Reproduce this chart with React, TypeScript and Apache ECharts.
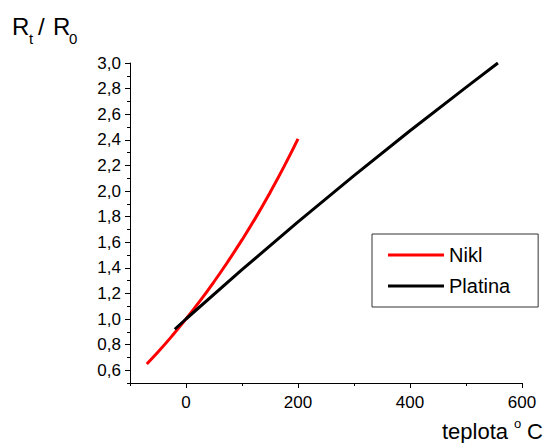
import React, { useEffect, useRef } from "react";
import * as echarts from "echarts";

const nickelT = [-70, -50, -25, 0, 25, 50, 75, 100, 125, 150, 175, 200];
const nickelR = [0.649, 0.742, 0.867, 1.0, 1.141, 1.291, 1.45, 1.618, 1.796, 1.987, 2.19, 2.407];
const platinaT = [-20, 0, 100, 200, 300, 400, 500, 557];
const platinaR = [0.92, 1.0, 1.385, 1.759, 2.12, 2.471, 2.81, 3.0];
const yTicks = [0.6, 0.8, 1.0, 1.2, 1.4, 1.6, 1.8, 2.0, 2.2, 2.4, 2.6, 2.8, 3.0];
const xTicks = [0, 200, 400, 600];
const seriesNames = ["Nikl", "Platina"];
const X_MIN = -100;
const X_MAX = 600;
const Y_MIN = 0.5;
const Y_MAX = 3.0;

const FONT = "'Liberation Sans', Arial, sans-serif";

export default function App() {
  const ref = useRef<HTMLDivElement>(null);
  useEffect(() => {
    if (!ref.current) return;
    const chart = echarts.init(ref.current, undefined, { renderer: "svg" });
    const texts = [
      { type: "text", left: 12, top: 14, style: { text: "R", font: `24px ${FONT}`, fill: "#000" } },
      { type: "text", left: 29, top: 31, style: { text: "t", font: `15px ${FONT}`, fill: "#000" } },
      { type: "text", left: 38, top: 14, style: { text: "/", font: `24px ${FONT}`, fill: "#000" } },
      { type: "text", left: 53, top: 14, style: { text: "R", font: `24px ${FONT}`, fill: "#000" } },
      { type: "text", left: 69, top: 31, style: { text: "0", font: `15px ${FONT}`, fill: "#000" } },
      { type: "text", right: 38, top: 420, style: { text: "teplota", font: `22px ${FONT}`, fill: "#000" } },
      { type: "text", left: 514, top: 417, style: { text: "o", font: `13px ${FONT}`, fill: "#000" } },
      { type: "text", right: 3, top: 420, style: { text: "C", font: `22px ${FONT}`, fill: "#000" } },
    ];
    chart.setOption({
      animation: false,
      backgroundColor: "#fff",
      textStyle: { fontFamily: FONT },
      grid: { left: 130, right: 24, top: 63, bottom: 60, containLabel: false, outerBoundsMode: "none" },
      xAxis: [
        {
          type: "value",
          min: X_MIN,
          max: X_MAX,
          interval: 100,
          position: "bottom",
          axisLine: { show: true, onZero: false, lineStyle: { color: "#000", width: 1 } },
          splitLine: { show: false },
          axisTick: { show: true, inside: false, length: 3, lineStyle: { color: "#000" } },
          axisLabel: { show: false },
        },
        {
          type: "value",
          min: X_MIN,
          max: X_MAX,
          position: "bottom",
          axisLine: { show: false, onZero: false },
          splitLine: { show: false },
          axisTick: { show: true, inside: false, length: 5, customValues: xTicks, lineStyle: { color: "#000" } },
          axisLabel: { customValues: xTicks, margin: 11, color: "#000", fontSize: 17, fontFamily: FONT },
        },
      ],
      yAxis: [
        {
          type: "value",
          min: Y_MIN,
          max: Y_MAX,
          interval: 0.1,
          position: "left",
          axisLine: { show: true, onZero: false, lineStyle: { color: "#000", width: 1 } },
          splitLine: { show: false },
          axisTick: { show: true, inside: false, length: 3, lineStyle: { color: "#000" } },
          axisLabel: { show: false },
        },
        {
          type: "value",
          min: Y_MIN,
          max: Y_MAX,
          position: "left",
          axisLine: { show: false, onZero: false },
          splitLine: { show: false },
          axisTick: { show: true, inside: false, length: 5, customValues: yTicks, lineStyle: { color: "#000" } },
          axisLabel: {
            customValues: yTicks,
            margin: 9,
            color: "#000",
            fontSize: 17,
            fontFamily: FONT,
            formatter: (v: number) => v.toFixed(1).replace(".", ","),
          },
        },
      ],
      legend: {
        left: 372,
        top: 234,
        orient: "vertical",
        data: seriesNames,
        icon: "rect",
        itemWidth: 56,
        itemHeight: 3,
        itemGap: 11,
        itemStyle: { borderWidth: 0 },
        padding: [11, 28, 11, 16],
        borderColor: "#333",
        borderWidth: 1,
        backgroundColor: "#fff",
        textStyle: { fontSize: 20, lineHeight: 20, color: "#000", fontFamily: FONT },
      },
      series: [
        {
          name: seriesNames[0],
          type: "line",
          xAxisIndex: 0,
          yAxisIndex: 0,
          data: nickelT.map((t, i) => [t, nickelR[i]]),
          symbol: "none",
          smooth: true,
          color: "#ff0000",
          lineStyle: { color: "#ff0000", width: 3 },
        },
        {
          name: seriesNames[1],
          type: "line",
          xAxisIndex: 0,
          yAxisIndex: 0,
          data: platinaT.map((t, i) => [t, platinaR[i]]),
          symbol: "none",
          color: "#000000",
          lineStyle: { color: "#000000", width: 3 },
        },
      ],
      graphic: texts,
    });
    const p1 = chart.convertToPixel({ xAxisIndex: 0, yAxisIndex: 0 }, [X_MIN, Y_MIN]) as number[];
    const p2 = chart.convertToPixel({ xAxisIndex: 0, yAxisIndex: 0 }, [X_MIN, Y_MAX]) as number[];
    if (p1 && p2) {
      chart.setOption({
        graphic: [
          ...texts,
          {
            type: "line",
            z: 100,
            silent: true,
            shape: { x1: Math.round(p1[0]) + 0.5, y1: p1[1], x2: Math.round(p2[0]) + 0.5, y2: p2[1] },
            style: { stroke: "#000", lineWidth: 1 },
          },
        ],
      });
    }
    return () => chart.dispose();
  }, []);
  return <div ref={ref} style={{ position: "fixed", left: 0, top: 0, width: 546, height: 443 }} />;
}
